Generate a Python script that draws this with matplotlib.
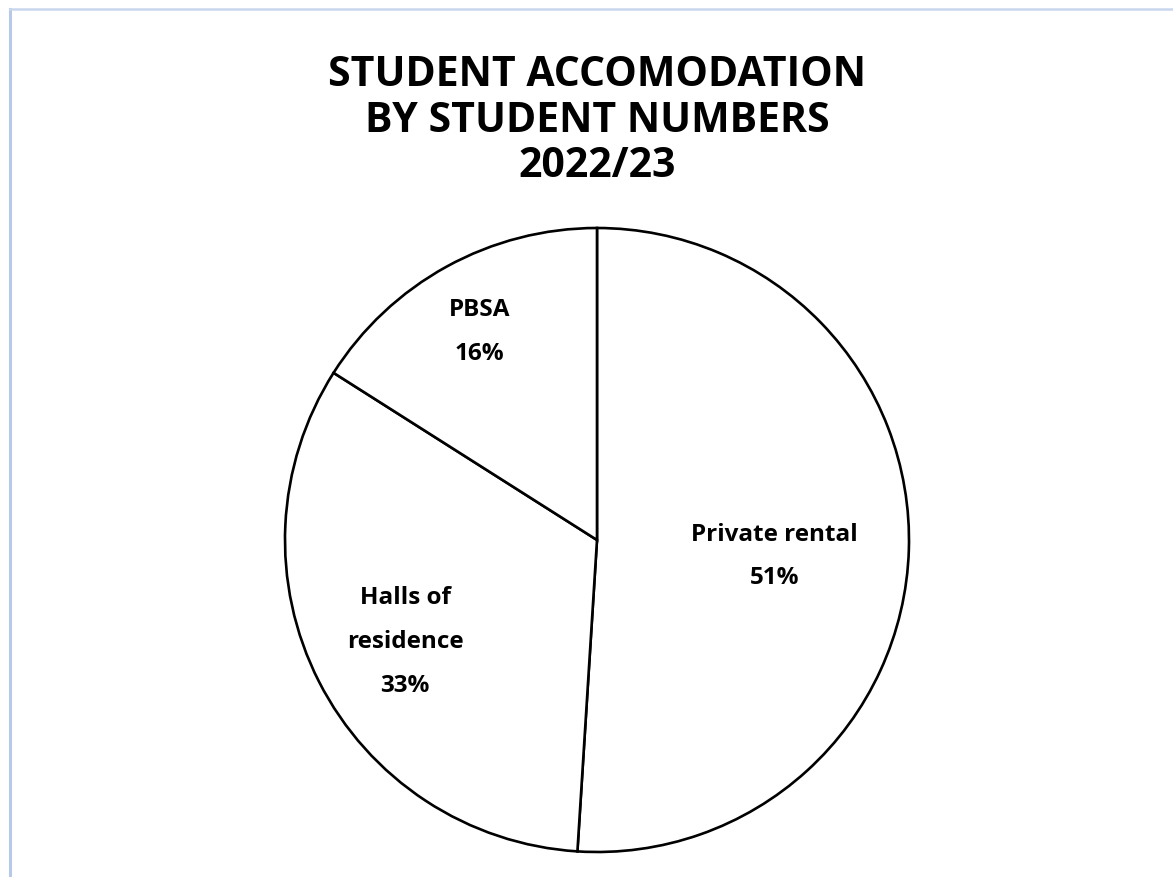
import numpy as np
import matplotlib.pyplot as plt
from matplotlib.lines import Line2D

# Data
categories = ['Private rental', 'Halls of\nresidence', 'PBSA']
shares = [51, 33, 16]
title = 'STUDENT ACCOMODATION\nBY STUDENT NUMBERS\n2022/23'

W, H = 1173, 878
fig = plt.figure(figsize=(W / 100, H / 100), dpi=100)
fig.patch.set_facecolor('white')

ax = fig.add_axes([0, 0, 1, 1])

# pie in pixel space (y measured from bottom)
cx, cy, r = 597, H - 541, 312
wedges, _ = ax.pie(shares, startangle=90, counterclock=False,
                   center=(cx, cy), radius=r, colors=['white'] * 3,
                   wedgeprops=dict(edgecolor='black', linewidth=1.9),
                   frame=True)
ax.set_xlim(0, W)
ax.set_ylim(0, H)
ax.set_aspect('equal')
ax.axis('off')

# labels inside slices (distance from centre, small vertical nudge in px)
label_dist = [0.57, 0.69, 0.78]
label_nudge = [-10, -3, -4]
for w, cat, s, d, dy in zip(wedges, categories, shares, label_dist, label_nudge):
    ang = np.deg2rad((w.theta1 + w.theta2) / 2)
    x = cx + d * r * np.cos(ang)
    y = cy + d * r * np.sin(ang) + dy
    ax.text(x, y, f'{cat}\n{s}%', ha='center', va='center',
            fontsize=17.5, fontweight='bold', family='Open Sans',
            linespacing=2.1, color='black')

fig.text(597 / W, 1 - 121 / H, title, ha='center', va='center',
         fontsize=29.5, fontweight='bold', family='Open Sans',
         linespacing=1.15, color='black')

# light blue page border (left and top)
fig.add_artist(Line2D([9.5 / W, 9.5 / W], [0, 1 - 10 / H],
                      transform=fig.transFigure, color='#b7c9e8', lw=2.2))
fig.add_artist(Line2D([9.5 / W, 1], [1 - 10 / H, 1 - 10 / H],
                      transform=fig.transFigure, color='#c9d7ee', lw=1.8))

fig.savefig('out.png', dpi=100, facecolor='white')
